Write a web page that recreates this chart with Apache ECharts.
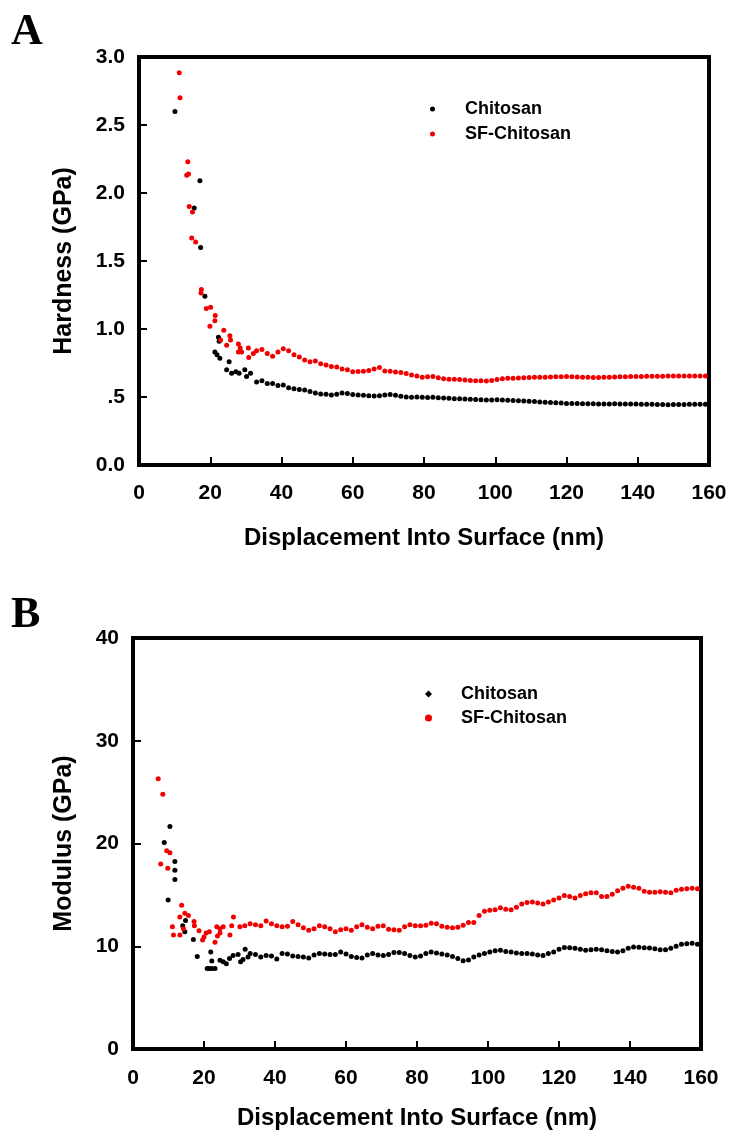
<!DOCTYPE html>
<html>
<head>
<meta charset="utf-8">
<script src="https://cdn.jsdelivr.net/npm/echarts@6/dist/echarts.min.js"></script>
<style>
html,body{margin:0;padding:0;background:#fff;}
#chart{width:735px;height:1135px;}
</style>
</head>
<body>
<div id="chart"></div>
<script>
// ---------- DATA ----------
const seriesNames = ['Chitosan', 'SF-Chitosan'];
const xTicks = [0, 20, 40, 60, 80, 100, 120, 140, 160];
const hardnessTicks = [0, 0.5, 1.0, 1.5, 2.0, 2.5, 3.0];
const hardnessTickLabels = ['0.0', '.5', '1.0', '1.5', '2.0', '2.5', '3.0'];
const modulusTicks = [0, 10, 20, 30, 40];

// shared displacement values (nm) for the flat tails
const tailX = [33, 34.5, 36, 37.5, 39, 40.5, 42, 43.5, 45, 46.5, 48, 49.5, 51, 52.5, 54, 55.5, 57, 58.5, 60, 61.5,
  63, 64.5, 66, 67.5, 69, 70.5, 72, 73.5, 75, 76.5, 78, 79.5, 81, 82.5, 84, 85.5, 87, 88.5, 90, 91.5,
  93, 94.5, 96, 97.5, 99, 100.5, 102, 103.5, 105, 106.5, 108, 109.5, 111, 112.5, 114, 115.5, 117, 118.5, 120, 121.5,
  123, 124.5, 126, 127.5, 129, 130.5, 132, 133.5, 135, 136.5, 138, 139.5, 141, 142.5, 144, 145.5, 147, 148.5, 150, 151.5,
  153, 154.5, 156, 157.5, 159];

// Panel A: Hardness (GPa)
const chitosanHardEarly = [[10.1,2.60],[15.5,1.89],[17.1,2.09],[17.3,1.60],[18.5,1.24],[22.3,0.94],[22.5,0.91],[21.3,0.83],
  [21.9,0.81],[22.7,0.785],[25.3,0.76],[24.6,0.70],[26.0,0.675],[27.2,0.686],[28.1,0.675],[29.7,0.70],[30.2,0.65],[31.3,0.675]];
const chitosanHardTail = [0.61, 0.62, 0.60, 0.60, 0.585, 0.588, 0.568, 0.56, 0.556, 0.552, 0.54, 0.53, 0.522, 0.52, 0.515, 0.52, 0.53, 0.525, 0.518, 0.515,
  0.512, 0.51, 0.507, 0.51, 0.515, 0.518, 0.512, 0.505, 0.50, 0.498, 0.50, 0.498, 0.497, 0.498, 0.494, 0.492, 0.49, 0.488, 0.487, 0.485,
  0.483, 0.482, 0.48, 0.478, 0.478, 0.479, 0.478, 0.476, 0.474, 0.472, 0.47, 0.468, 0.466, 0.464, 0.462, 0.46, 0.458, 0.456, 0.453, 0.452,
  0.452, 0.451, 0.45, 0.45, 0.449, 0.449, 0.449, 0.45, 0.449, 0.449, 0.449, 0.448, 0.447, 0.447, 0.446, 0.445, 0.444, 0.443, 0.444, 0.445,
  0.445, 0.446, 0.446, 0.446, 0.446];
const sfHardEarly = [[11.3,2.885],[11.5,2.70],[13.7,2.23],[13.4,2.13],[13.9,2.14],[14.1,1.90],[15.0,1.86],[14.8,1.67],[15.9,1.64],
  [17.5,1.29],[17.4,1.265],[18.9,1.15],[20.1,1.16],[21.4,1.10],[21.3,1.06],[19.9,1.02],[23.8,0.99],[22.9,0.92],[24.6,0.88],
  [25.5,0.95],[25.7,0.92],[27.9,0.89],[28.4,0.86],[27.9,0.83],[28.8,0.83],[30.7,0.86],[30.8,0.79],[32.1,0.82]];
const sfHardTail = [0.84, 0.85, 0.82, 0.80, 0.83, 0.855, 0.84, 0.81, 0.795, 0.772, 0.76, 0.765, 0.745, 0.735, 0.725, 0.72, 0.706, 0.70, 0.686, 0.688,
  0.69, 0.695, 0.705, 0.716, 0.692, 0.69, 0.684, 0.68, 0.672, 0.662, 0.655, 0.645, 0.648, 0.65, 0.642, 0.635, 0.63, 0.63, 0.628, 0.625,
  0.622, 0.62, 0.62, 0.618, 0.622, 0.628, 0.634, 0.637, 0.638, 0.64, 0.641, 0.643, 0.645, 0.646, 0.645, 0.647, 0.648, 0.649, 0.65, 0.648,
  0.647, 0.646, 0.645, 0.644, 0.643, 0.645, 0.646, 0.647, 0.648, 0.649, 0.65, 0.65, 0.651, 0.652, 0.652, 0.653, 0.653, 0.654, 0.654, 0.654,
  0.654, 0.654, 0.655, 0.655, 0.654];

// Panel B: Modulus (GPa)
const chitosanModEarly = [[10.4,21.65],[8.8,20.1],[9.9,14.5],[11.8,18.25],[11.8,17.4],[11.8,16.5],[14.8,12.5],[14.0,12.0],[14.6,11.4],
  [17.0,10.65],[18.1,9.0],[20.9,7.83],[21.5,7.83],[22.2,7.83],[23.1,7.83],[21.9,9.45],[22.2,8.57],[24.5,8.64],[25.4,8.5],[26.3,8.3],
  [27.2,8.8],[28.2,9.1],[29.6,9.2],[30.3,8.5],[31.0,8.7],[31.6,9.7],[32.4,8.96]];
const chitosanModTail = [9.3, 9.2, 8.95, 9.1, 9.05, 8.75, 9.3, 9.25, 9.05, 9.0, 8.95, 8.85, 9.15, 9.3, 9.25, 9.2, 9.2, 9.45, 9.25, 9.0,
  8.9, 8.85, 9.15, 9.3, 9.15, 9.1, 9.2, 9.4, 9.4, 9.3, 9.1, 8.95, 9.05, 9.3, 9.45, 9.35, 9.25, 9.15, 9.0, 8.8,
  8.6, 8.65, 8.95, 9.15, 9.3, 9.45, 9.55, 9.6, 9.5, 9.45, 9.35, 9.3, 9.3, 9.25, 9.15, 9.1, 9.3, 9.45, 9.7, 9.87,
  9.85, 9.8, 9.7, 9.6, 9.65, 9.7, 9.65, 9.55, 9.5, 9.45, 9.55, 9.8, 9.93, 9.9, 9.85, 9.82, 9.75, 9.65, 9.65, 9.8,
  10.0, 10.2, 10.25, 10.3, 10.2];
const sfModEarly = [[7.1,26.3],[8.4,24.8],[9.5,19.3],[10.4,19.1],[7.8,18.0],[9.8,17.6],[13.7,14.0],[13.2,12.85],[14.6,13.2],[15.6,13.0],
  [11.1,11.9],[11.4,11.1],[13.2,11.1],[14.2,11.7],[17.2,12.4],[17.3,12.0],[18.6,11.5],[19.6,10.6],[20.0,10.9],[20.6,11.3],[21.5,11.4],
  [23.6,11.9],[24.5,11.7],[25.4,11.9],[23.1,10.4],[23.8,11.0],[24.5,11.3],[28.3,12.85],[27.8,12.0],[27.3,11.1],[30.1,11.9],[31.5,12.0]];
const sfModTail = [12.2, 12.1, 12.0, 12.45, 12.2, 12.0, 11.9, 11.95, 12.4, 12.1, 11.8, 11.55, 11.7, 12.0, 11.9, 11.7, 11.4, 11.6, 11.7, 11.55,
  11.9, 12.1, 11.85, 11.7, 11.95, 12.0, 11.65, 11.6, 11.55, 11.9, 12.1, 12.0, 12.0, 12.05, 12.25, 12.2, 11.95, 11.85, 11.8, 11.85,
  12.05, 12.3, 12.3, 13.0, 13.4, 13.5, 13.55, 13.75, 13.6, 13.55, 13.8, 14.1, 14.25, 14.3, 14.2, 14.1, 14.3, 14.5, 14.7, 14.95,
  14.85, 14.7, 14.95, 15.1, 15.2, 15.2, 14.85, 14.85, 15.05, 15.4, 15.65, 15.85, 15.75, 15.65, 15.35, 15.25, 15.25, 15.3, 15.25, 15.2,
  15.45, 15.55, 15.6, 15.65, 15.6];

// ---------- BUILD ----------
function join(early, tail) {
  return early.concat(tailX.map((x, i) => [x, tail[i]]));
}
const FONT = 'Liberation Sans';
const BLACK = '#000000';
const RED = '#f00000';

function xAxisCfg(gridIndex, gap, labelMargin) {
  return {
    type: 'value', gridIndex: gridIndex, min: xTicks[0], max: xTicks[xTicks.length - 1], interval: 20,
    name: 'Displacement Into Surface (nm)', nameLocation: 'middle', nameGap: gap,
    nameTextStyle: {fontFamily: FONT, fontWeight: 'bold', fontSize: 24, color: '#000'},
    axisLine: {show: false},
    axisTick: {show: true, inside: true, length: 8, lineStyle: {color: '#000', width: 2}},
    axisLabel: {fontFamily: FONT, fontWeight: 'bold', fontSize: 21, color: '#000', margin: labelMargin},
    splitLine: {show: false}
  };
}

const option = {
  animation: false,
  backgroundColor: '#fff',
  title: [
    {text: 'A', left: 11, top: 11, padding: 0, textStyle: {fontFamily: 'Liberation Serif', fontWeight: 'bold', fontSize: 44, color: '#000'}},
    {text: 'B', left: 11, top: 594, padding: 0, textStyle: {fontFamily: 'Liberation Serif', fontWeight: 'bold', fontSize: 44, color: '#000'}}
  ],
  legend: [
    {
      orient: 'vertical', left: 430, top: 100, padding: 0, itemGap: 7, itemWidth: 5, itemHeight: 5,
      data: [{name: seriesNames[0], icon: 'circle'}, {name: seriesNames[1], icon: 'circle'}],
      textStyle: {fontFamily: FONT, fontWeight: 'bold', fontSize: 18, color: '#000', padding: [0, 0, 0, 25]},
      selectedMode: false
    },
    {
      orient: 'vertical', left: 425, top: 685, padding: 0, itemGap: 6, itemWidth: 7, itemHeight: 7,
      data: [{name: seriesNames[0], icon: 'diamond'}, {name: seriesNames[1], icon: 'circle'}],
      textStyle: {fontFamily: FONT, fontWeight: 'bold', fontSize: 18, color: '#000', padding: [0, 0, 0, 24]},
      selectedMode: false
    }
  ],
  grid: [
    {left: 139, top: 57, width: 570, height: 408, show: true, borderColor: '#000', borderWidth: 4, backgroundColor: 'transparent'},
    {left: 133, top: 638, width: 568, height: 411, show: true, borderColor: '#000', borderWidth: 4, backgroundColor: 'transparent'}
  ],
  xAxis: [xAxisCfg(0, 61, 18), xAxisCfg(1, 57, 19)],
  yAxis: [
    {
      type: 'value', gridIndex: 0, min: hardnessTicks[0], max: hardnessTicks[hardnessTicks.length - 1], interval: 0.5,
      name: 'Hardness (GPa)', nameLocation: 'middle', nameGap: 62,
      nameTextStyle: {fontFamily: FONT, fontWeight: 'bold', fontSize: 25, color: '#000'},
      axisLine: {show: false},
      axisTick: {show: true, inside: true, length: 8, lineStyle: {color: '#000', width: 2}},
      axisLabel: {fontFamily: FONT, fontWeight: 'bold', fontSize: 21, color: '#000', margin: 14,
        formatter: v => { const i = hardnessTicks.findIndex(t => Math.abs(t - v) < 1e-9); return i >= 0 ? hardnessTickLabels[i] : ''; }},
      splitLine: {show: false}
    },
    {
      type: 'value', gridIndex: 1, min: modulusTicks[0], max: modulusTicks[modulusTicks.length - 1], interval: 10,
      name: 'Modulus (GPa)', nameLocation: 'middle', nameGap: 56,
      nameTextStyle: {fontFamily: FONT, fontWeight: 'bold', fontSize: 25, color: '#000'},
      axisLine: {show: false},
      axisTick: {show: true, inside: true, length: 8, lineStyle: {color: '#000', width: 2}},
      axisLabel: {fontFamily: FONT, fontWeight: 'bold', fontSize: 21, color: '#000', margin: 14},
      splitLine: {show: false}
    }
  ],
  series: [
    {name: seriesNames[0], type: 'scatter', xAxisIndex: 0, yAxisIndex: 0, symbol: 'circle', symbolSize: 5,
      itemStyle: {color: BLACK, opacity: 1}, data: join(chitosanHardEarly, chitosanHardTail)},
    {name: seriesNames[1], type: 'scatter', xAxisIndex: 0, yAxisIndex: 0, symbol: 'circle', symbolSize: 5,
      itemStyle: {color: RED, opacity: 1}, data: join(sfHardEarly, sfHardTail)},
    {name: seriesNames[0], type: 'scatter', xAxisIndex: 1, yAxisIndex: 1, symbol: 'circle', symbolSize: 5,
      itemStyle: {color: BLACK, opacity: 1}, data: join(chitosanModEarly, chitosanModTail)},
    {name: seriesNames[1], type: 'scatter', xAxisIndex: 1, yAxisIndex: 1, symbol: 'circle', symbolSize: 5,
      itemStyle: {color: RED, opacity: 1}, data: join(sfModEarly, sfModTail)}
  ]
};

const chart = echarts.init(document.getElementById('chart'), null, {renderer: 'canvas'});
chart.setOption(option);
</script>
</body>
</html>
